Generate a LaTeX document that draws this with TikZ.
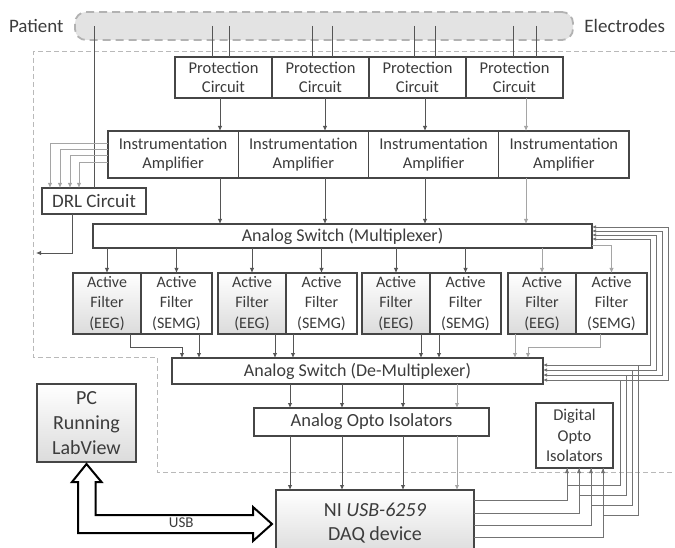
\documentclass[tikz,border=0pt]{standalone}
\usepackage{fontspec}
\setmainfont{Carlito}
\usetikzlibrary{arrows.meta, positioning, calc}

\begin{document}
\begin{tikzpicture}[
    x=1pt, y=-1pt,
    every node/.style = {text={rgb,255:red,60;green,60;blue,60}},
    blk/.style = {
        rectangle, draw={rgb,255:red,70;green,70;blue,70}, line width=1.1pt,
        fill=white, inner sep=0pt, outer sep=0pt, align=center,
        font=\fontsize{16.5}{19.5}\selectfont
    },
    prot/.style = {blk, minimum width=97pt, minimum height=41pt},
    amp/.style = {blk, minimum width=130.25pt, minimum height=47pt},
    filt/.style = {
        blk, minimum width=68pt, minimum height=61pt,
        font=\fontsize{16}{20.5}\selectfont
    },
    eegfill/.style = {top color=white, bottom color=black!14},
    swt/.style = {blk, font=\fontsize{18}{20}\selectfont},
    ebar/.style = {
        rectangle, rounded corners=11pt, draw=gray!60, fill=gray!22,
        dash pattern=on 8pt off 5pt, line width=1.8pt,
        minimum width=498pt, minimum height=28pt
    },
    side/.style = {font=\fontsize{19}{20}\selectfont},
    iso/.style = {draw=gray!55, line width=1pt, dash pattern=on 5pt off 3pt},
    sig/.style = {line width=0.9pt, color={rgb,255:red,85;green,85;blue,85}},
    sigl/.style = {line width=0.9pt, color={rgb,255:red,165;green,165;blue,165}},
    ctl/.style = {line width=0.9pt, color={rgb,255:red,115;green,115;blue,115}},
    arr/.style = {-{Latex[length=5pt,width=4.5pt]}},
    usb/.style = {draw=black, line width=2pt, fill=white, line join=miter}
]

\useasboundingbox (0,0) rectangle (675,548);

%% Isolation boundary
\draw[iso] (675,52) -- (33,52) -- (33,357) -- (157,357) -- (157,472) -- (675,472);

%% Electrodes
\node[ebar] (bar) at (324,26) {};
\node[side, anchor=east] (patient) at ($(bar.west)+(-7,0)$) {Patient};
\node[side, anchor=west] (electrodes) at ($(bar.east)+(7,0)$) {Electrodes};

%% Front end boxes
\node[prot] (prot1) at (223.5,77.5) {Protection\\Circuit};
\node[prot, right=0pt of prot1] (prot2) {Protection\\Circuit};
\node[prot, right=0pt of prot2] (prot3) {Protection\\Circuit};
\node[prot, right=0pt of prot3] (prot4) {Protection\\Circuit};

\node[amp] (amp1) at (173.1,154.5) {Instrumentation\\Amplifier};
\node[amp, right=0pt of amp1] (amp2) {Instrumentation\\Amplifier};
\node[amp, right=0pt of amp2] (amp3) {Instrumentation\\Amplifier};
\node[amp, right=0pt of amp3] (amp4) {Instrumentation\\Amplifier};

\node[blk, font=\fontsize{19}{20}\selectfont, minimum width=104pt,
    minimum height=26pt] (drl) at (94,201) {DRL Circuit};

\node[swt, minimum width=499pt, minimum height=24pt] (mux) at (342.5,236)
    {Analog Switch (Multiplexer)};

%% Filter pairs
\foreach \g/\xl in {1/73, 2/218, 3/362, 4/508} {
    \node[filt, eegfill, anchor=north west] (eeg\g) at (\xl,273) {Active\\Filter\\(EEG)};
    \node[filt, minimum width=71pt, right=0pt of eeg\g] (semg\g) {Active\\Filter\\(SEMG)};
}

\node[swt, minimum width=371pt, minimum height=26pt] (demux) at (357.5,371)
    {Analog Switch (De-Multiplexer)};
\node[blk, font=\fontsize{18.5}{20}\selectfont, minimum width=235pt,
    minimum height=28pt] (aopto) at (371.5,422) {Analog Opto Isolators};
\node[blk, eegfill, font=\fontsize{20}{24}\selectfont, minimum width=198pt,
    minimum height=66pt] (daq) at (375,523) {NI \textit{USB-6259}\\DAQ device};
\node[blk, font=\fontsize{16.5}{20.5}\selectfont, minimum width=77pt,
    minimum height=65pt] (dopto) at (574.5,435.5) {Digital\\Opto\\Isolators};
\node[blk, eegfill, font=\fontsize{20}{25}\selectfont, minimum width=99pt,
    minimum height=78pt] (pc) at (86.5,423) {PC\\Running\\LabView};

%% Electrode leads
\foreach \xe/\n in {212/1, 229/1, 312/2, 332/2, 414/3, 435/3, 513/4, 536/4}
    \draw[sig] (\xe,0 |- bar.center) -- (\xe,0 |- prot\n.north);
\draw[sig] (drl.north) -- (drl.north |- bar.center);

%% Protection -> amplifiers -> multiplexer
\foreach \xa/\n/\c in {220/1/sig, 325/2/sig, 425/3/sig, 526/4/sigl} {
    \draw[\c, arr] (\xa,0 |- prot\n.south) -- (\xa,0 |- amp\n.north);
    \draw[\c, arr] (\xa,0 |- amp\n.south) -- (\xa,0 |- mux.north);
}

%% Amplifiers -> DRL
\foreach \yy/\xx in {143/50, 149/60, 155/70, 162/79}
    \draw[sigl, arr] (amp1.west |- 0,\yy) -| (\xx,0 |- drl.north);
\coordinate (isoref) at (36,253);
\draw[sig, arr] (drl.south -| 72,0) |- (isoref);

%% Multiplexer -> filters
\foreach \n/\c in {eeg1/sig, semg1/sig, eeg2/sig, semg2/sig, eeg3/sig, semg3/sig, eeg4/sigl}
    \draw[\c, arr] (mux.south -| \n.north) -- (\n.north);
\draw[sigl, arr] (mux.east |- 0,245) -| (semg4.north);

%% Filters -> de-multiplexer
\draw[sig, arr] (130,0 |- eeg1.south) -- ++(0,13) -| (182,0 |- demux.north);
\foreach \xd/\n/\c in {199/semg1/sig, 275/eeg2/sig, 293/semg2/sig, 421/eeg3/sig, 439/semg3/sig, 515/eeg4/sigl}
    \draw[\c, arr] (\xd,0 |- \n.south) -- (\xd,0 |- demux.north);
\draw[sigl, arr] (600,0 |- semg4.south) -- ++(0,13) -| (528,0 |- demux.north);

%% De-multiplexer -> analog opto -> DAQ
\foreach \xo/\c in {290/sig, 342/sig, 403/sig, 457/sigl} {
    \draw[\c, arr] (\xo,0 |- demux.south) -- (\xo,0 |- aopto.north);
    \draw[\c, arr] (\xo,0 |- aopto.south) -- (\xo,0 |- daq.north);
}

%% Digital control lines
\foreach \yq/\xq in {500/567, 513/579, 525/591, 537/603}
    \draw[ctl, arr] (daq.east |- 0,\yq) -| (\xq,0 |- dopto.south);
\foreach \xo/\yh/\xv/\yd in {567/485/620/380, 579/495/626/375, 591/505/632/370, 603/515/638/365}
    \draw[ctl] (\xo,0 |- dopto.south) |- (\xv,\yh) -- (\xv,\yd);
\foreach \ym/\xr/\yd in {227/668/380, 231/662/375, 235/656/370, 239/650/365}
    \draw[ctl, {Latex[length=4pt,width=3.5pt]}-{Latex[length=4pt,width=3.5pt]}]
        (mux.east |- 0,\ym) -| (\xr,\yd) -- (demux.east |- 0,\yd);

%% USB link
\draw[usb] ($(pc.south)+(0,2)$) -- ++(15,18) -- ++(-6,0)
    |- ($(daq.west)+(-23,-8)$) -- ++(0,-8) -- ($(daq.west)+(-4,1)$)
    -- ++(-19,17) -- ++(0,-8) -| ($(pc.south)+(-8.5,20)$) -- ++(-6,0) -- cycle;
\node[font=\fontsize{15}{16}\selectfont] (usblbl) at ($(pc.south |- daq.west)!0.5!(daq.west)$) {USB};

\end{tikzpicture}
\end{document}
